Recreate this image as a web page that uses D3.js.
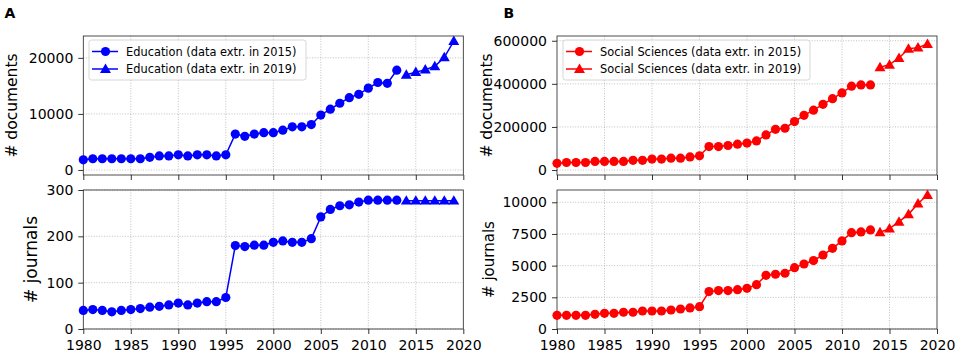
<!DOCTYPE html>
<html>
<head>
<meta charset="utf-8">
<script src="https://cdn.jsdelivr.net/npm/d3@7"></script>
<style>
  body { margin: 0; background: #fff; }
  svg { font-family: "DejaVu Sans", sans-serif; }
</style>
</head>
<body>
<svg id="chart" width="957" height="353"></svg>
<script>
// years
var years2015 = d3.range(1980, 2014);
var years2019 = [2014, 2015, 2016, 2017, 2018, 2019];

// Education
var eduDocs2015 = [1800, 2000, 2000, 2000, 2000, 2000, 2000, 2250, 2500, 2500,
  2700, 2500, 2700, 2700, 2500, 2700, 6400, 6000, 6400, 6650,
  6650, 7100, 7700, 7700, 8100, 9800, 10850, 11900, 12900, 13500,
  14600, 15600, 15450, 17800];
var eduDocs2019 = [17000, 17450, 17900, 18500, 20100, 23000];
var eduJour2015 = [40, 42, 40, 37, 40, 42, 44, 47, 49, 52,
  56, 52, 56, 59, 59, 68, 180, 178, 181, 181,
  187, 190, 187, 187, 195, 242, 258, 266, 268, 274,
  278, 278, 278, 278];
var eduJour2019 = [277, 277, 277, 277, 277, 277];

// Social Sciences
var socDocs2015 = [31000, 35000, 35000, 35000, 40000, 40000, 40000, 40000, 45000, 45000,
  51000, 51000, 55000, 55000, 61000, 66000, 109000, 109000, 114000, 120000,
  125000, 135000, 163000, 189000, 194000, 225000, 254000, 278000, 305000, 331000,
  358000, 389000, 395000, 395000];
var socDocs2019 = [477000, 489000, 520000, 563000, 568000, 585000];
var socJour2015 = [1080, 1080, 1080, 1080, 1160, 1240, 1240, 1320, 1320, 1420,
  1420, 1420, 1500, 1580, 1660, 1760, 2950, 3030, 3030, 3100,
  3210, 3500, 4240, 4320, 4400, 4840, 5130, 5400, 5840, 6370,
  6950, 7600, 7660, 7820];
var socJour2019 = [7630, 7920, 8470, 9050, 9900, 10580];

var xTicks = [1980, 1985, 1990, 1995, 2000, 2005, 2010, 2015, 2020];

var svg = d3.select('#chart');

function drawPanel(opt) {
	var g = svg.append('g');
	var x = d3.scaleLinear().domain([1980, 2020]).range([opt.left, opt.right]);
	var y = d3.scaleLinear().domain(opt.yDomain).range([opt.bottom, opt.top]);

	// grid
	g.append('g').selectAll('line').data(xTicks.slice(1, -1)).enter().append('line')
		.attr('x1', function(d) { return x(d); }).attr('x2', function(d) { return x(d); })
		.attr('y1', opt.top).attr('y2', opt.bottom)
		.attr('stroke', '#b0b0b0').attr('stroke-width', 0.8).attr('stroke-dasharray', '1,1.6');
	g.append('g').selectAll('line').data(opt.yTicks).enter().append('line')
		.attr('x1', opt.left).attr('x2', opt.right)
		.attr('y1', function(d) { return y(d); }).attr('y2', function(d) { return y(d); })
		.attr('stroke', '#b0b0b0').attr('stroke-width', 0.8).attr('stroke-dasharray', '1,1.6');

	// axes
	var yAxis = d3.axisLeft(y).tickValues(opt.yTicks).tickSize(5).tickPadding(5)
		.tickFormat(d3.format('d'));
	var ya = g.append('g').attr('transform', 'translate(' + opt.left + ',0)').call(yAxis);
	var xAxis = d3.axisBottom(x).tickValues(xTicks).tickSize(5).tickPadding(6)
		.tickFormat(opt.xLabels ? d3.format('d') : '');
	var xa = g.append('g').attr('transform', 'translate(0,' + opt.bottom + ')').call(xAxis);
	[ya, xa].forEach(function(a) {
		a.select('.domain').remove();
		a.selectAll('text').attr('font-size', 14).attr('fill', '#000')
			.attr('font-family', '"DejaVu Sans", sans-serif');
		a.selectAll('line').attr('stroke', '#000').attr('stroke-width', 0.8);
	});

	// frame
	g.append('rect').attr('x', opt.left).attr('y', opt.top)
		.attr('width', opt.right - opt.left).attr('height', opt.bottom - opt.top)
		.attr('fill', 'none').attr('stroke', '#222').attr('stroke-width', 0.8);

	// y label
	g.append('text')
		.attr('transform', 'translate(' + opt.labelX + ',' + ((opt.top + opt.bottom) / 2) + ') rotate(-90)')
		.attr('text-anchor', 'middle').attr('dominant-baseline', 'central')
		.attr('font-size', opt.labelSize).text(opt.label);

	var line = d3.line().x(function(d) { return x(d[0]); }).y(function(d) { return y(d[1]); });
	var tri = d3.symbol().type(d3.symbolTriangle).size(52);

	opt.series.forEach(function(s) {
		var pts = s.years.map(function(yr, i) { return [yr, s.values[i]]; });
		g.append('path').datum(pts).attr('d', line)
			.attr('fill', 'none').attr('stroke', opt.color).attr('stroke-width', 1.5);
		if (s.marker == 'circle') {
			g.append('g').selectAll('circle').data(pts).enter().append('circle')
				.attr('cx', function(d) { return x(d[0]); })
				.attr('cy', function(d) { return y(d[1]); })
				.attr('r', 4.6).attr('fill', opt.color);
		} else {
			g.append('g').selectAll('path').data(pts).enter().append('path')
				.attr('d', tri)
				.attr('transform', function(d) { return 'translate(' + x(d[0]) + ',' + (y(d[1]) + 0.8) + ')'; })
				.attr('fill', opt.color);
		}
	});

	if (opt.legend) {
		var L = opt.legend;
		var lg = g.append('g');
		lg.append('rect').attr('x', L.x).attr('y', L.y).attr('width', L.w).attr('height', 40)
			.attr('rx', 2.5).attr('fill', 'rgba(255,255,255,0.8)').attr('stroke', '#ccc').attr('stroke-width', 0.8);
		L.items.forEach(function(it, i) {
			var cy = L.y + 11.5 + i * 17.5;
			lg.append('line').attr('x1', L.x + 3).attr('x2', L.x + 29).attr('y1', cy).attr('y2', cy)
				.attr('stroke', opt.color).attr('stroke-width', 1.5);
			if (i == 0) {
				lg.append('circle').attr('cx', L.x + 16.5).attr('cy', cy).attr('r', 4.6).attr('fill', opt.color);
			} else {
				lg.append('path').attr('d', tri).attr('transform', 'translate(' + (L.x + 16.5) + ',' + (cy + 0.8) + ')')
					.attr('fill', opt.color);
			}
			lg.append('text').attr('x', L.x + 37).attr('y', cy).attr('dominant-baseline', 'central')
				.attr('font-size', 11.4).text(it);
		});
	}
}

// Panel A
drawPanel({
	left: 83.3, right: 463.3, top: 36, bottom: 175,
	yDomain: [-900, 23900], yTicks: [0, 10000, 20000], xLabels: false,
	label: '# documents', labelX: 12, labelSize: 15.5, color: '#0000ff',
	series: [
		{ years: years2015, values: eduDocs2015, marker: 'circle' },
		{ years: years2019, values: eduDocs2019, marker: 'triangle' }
	],
	legend: { x: 89, y: 40, w: 217, items: ['Education (data extr. in 2015)', 'Education (data extr. in 2019)'] }
});
drawPanel({
	left: 83.3, right: 463.3, top: 190, bottom: 329,
	yDomain: [0, 300], yTicks: [0, 100, 200, 300], xLabels: true,
	label: '# journals', labelX: 31, labelSize: 17, color: '#0000ff',
	series: [
		{ years: years2015, values: eduJour2015, marker: 'circle' },
		{ years: years2019, values: eduJour2019, marker: 'triangle' }
	]
});

// Panel B
drawPanel({
	left: 557, right: 937, top: 36, bottom: 175,
	yDomain: [-23000, 622000], yTicks: [0, 200000, 400000, 600000], xLabels: false,
	label: '# documents', labelX: 487, labelSize: 15.5, color: '#ff0000',
	series: [
		{ years: years2015, values: socDocs2015, marker: 'circle' },
		{ years: years2019, values: socDocs2019, marker: 'triangle' }
	],
	legend: { x: 563, y: 40, w: 247, items: ['Social Sciences (data extr. in 2015)', 'Social Sciences (data extr. in 2019)'] }
});
drawPanel({
	left: 557, right: 937, top: 190, bottom: 329,
	yDomain: [0, 10970], yTicks: [0, 2500, 5000, 7500, 10000], xLabels: true,
	label: '# journals', labelX: 489, labelSize: 15, color: '#ff0000',
	series: [
		{ years: years2015, values: socJour2015, marker: 'circle' },
		{ years: years2019, values: socJour2019, marker: 'triangle' }
	]
});

// panel letters
svg.append('text').attr('x', 4.5).attr('y', 17.5).attr('font-size', 14).attr('font-weight', 'bold').text('A');
svg.append('text').attr('x', 503.5).attr('y', 17.5).attr('font-size', 14).attr('font-weight', 'bold').text('B');
</script>
</body>
</html>
